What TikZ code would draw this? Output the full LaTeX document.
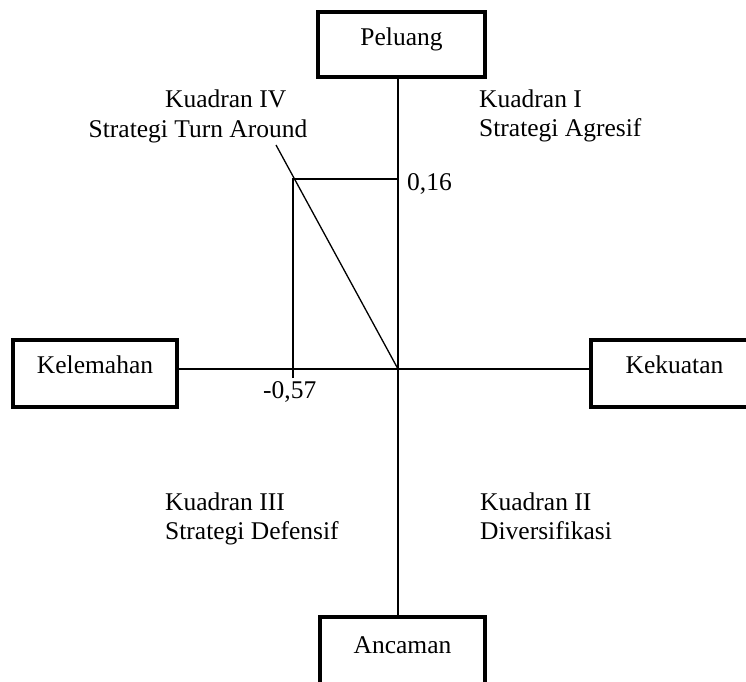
\documentclass[tikz,border=0pt]{standalone}
\usepackage{fontspec}
\setmainfont{Liberation Serif}
\begin{document}
\begin{tikzpicture}[x=1pt,y=-1pt,
  box/.style={draw,line width=3.5pt,inner sep=0pt,outer sep=0pt,text height=33pt,text depth=32pt},
  axis/.style={line width=1.3pt},
  lbl/.style={inner sep=0pt,anchor=base west},
  lblc/.style={inner sep=0pt,anchor=base},
  every node/.style={font=\fontsize{25.5pt}{29pt}\selectfont}]
\useasboundingbox (0,0) rectangle (746,681);
\clip (0,0) rectangle (746,681);
\coordinate (O) at (398,369);
\node[box,minimum width=167pt,anchor=north] (peluang) at (401.5,12) {Peluang};
\node[box,minimum width=164pt,text depth=34pt,anchor=north] (kelemahan) at (95,340) {Kelemahan};
\node[box,minimum width=167pt,text depth=34pt,anchor=north west] (kekuatan) at (591,340) {Kekuatan};
\node[box,minimum width=165pt,text height=36pt,text depth=40pt,anchor=north] (ancaman) at (402.5,617) {Ancaman};
\draw[axis] (O |- peluang.south) -- (O |- ancaman.north);
\draw[axis] (kelemahan.east |- O) -- (kekuatan.west |- O);
\coordinate (P) at (293,179);
\coordinate (Pv) at (293,378);
\coordinate (Ph) at (398,179);
\coordinate (D) at (276,145);
\draw[axis] (Pv) -- (P) -- (Ph);
\draw[axis] (O) -- (D);
\node[lbl] (k1a) at (479,107) {Kuadran I};
\node[lbl] (k1b) at (479,136) {Strategi Agresif};
\node[lbl] (k4a) at (165,107) {Kuadran IV};
\node[lblc] (k4b) at (198,137) {Strategi Turn Around};
\node[lbl] (k3a) at (165,510) {Kuadran III};
\node[lbl] (k3b) at (165,539) {Strategi Defensif};
\node[lbl] (k2a) at (480,510) {Kuadran II};
\node[lbl] (k2b) at (480,539) {Diversifikasi};
\node[lbl] (v1) at (407,190) {0,16};
\node[lbl] (v2) at (263,398) {-0,57};
\end{tikzpicture}
\end{document}
